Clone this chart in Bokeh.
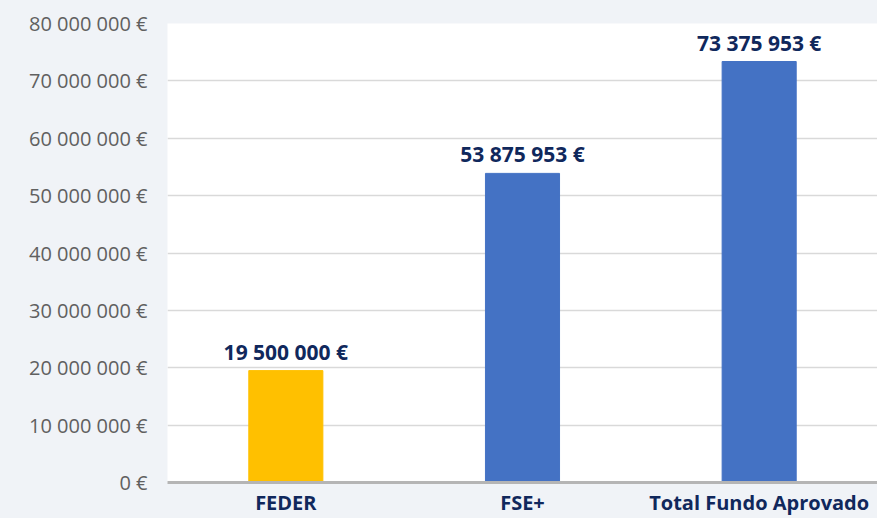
from bokeh.plotting import figure
from bokeh.models import ColumnDataSource, FixedTicker, Range1d, FactorRange
from bokeh.embed import file_html
from bokeh.resources import INLINE
from bokeh.core.properties import value

# ---- data ----
categories = ["FEDER", "FSE+", "Total Fundo Aprovado"]
amounts = [19500000, 53875953, 73375953]
bar_colors = ["#ffc000", "#4472c4", "#4472c4"]
amount_labels = ["19 500 000 €", "53 875 953 €", "73 375 953 €"]
ytick_values = [0, 10000000, 20000000, 30000000, 40000000, 50000000, 60000000, 70000000, 80000000]
ytick_labels = ["0 €", "10 000 000 €", "20 000 000 €", "30 000 000 €", "40 000 000 €",
                "50 000 000 €", "60 000 000 €", "70 000 000 €", "80 000 000 €"]

BG = "#f0f3f7"
NAVY = "#10285c"

src = ColumnDataSource(dict(cat=categories, val=amounts, color=bar_colors, lab=amount_labels))

p = figure(width=877, height=518, x_range=FactorRange(*categories, range_padding=0),
           y_range=Range1d(0, 80000000), output_backend="svg", toolbar_location=None,
           min_border_left=167, min_border_right=0, min_border_top=23, min_border_bottom=30)

p.background_fill_color = "white"
p.border_fill_color = BG
p.outline_line_color = None

p.vbar(x="cat", top="val", width=0.313, color="color", source=src)

p.text(x="cat", y="val", text="lab", source=src, text_align="center", text_baseline="alphabetic",
       y_offset=-19, text_font=value("Open Sans"), text_font_style="bold",
       text_font_size="21px", text_color=NAVY)

# y axis
p.yaxis.ticker = FixedTicker(ticks=ytick_values)
p.yaxis.major_label_overrides = {v: l for v, l in zip(ytick_values, ytick_labels)}
p.yaxis.axis_line_color = None
p.yaxis.major_tick_line_color = None
p.yaxis.minor_tick_line_color = None
p.yaxis.major_tick_out = 0
p.yaxis.major_tick_in = 0
p.yaxis.minor_tick_out = 0
p.yaxis.major_label_standoff = 20
p.yaxis.major_label_text_font = "Open Sans"
p.yaxis.major_label_text_font_size = "20px"
p.yaxis.major_label_text_color = "#606060"

# x axis
p.xaxis.axis_line_color = "#b5b5b5"
p.xaxis.axis_line_width = 3
p.xaxis.major_tick_line_color = None
p.xaxis.minor_tick_line_color = None
p.xaxis.major_tick_out = 0
p.xaxis.major_tick_in = 0
p.xaxis.minor_tick_out = 0
p.xaxis.major_label_standoff = 6
p.xaxis.major_label_text_font = "Open Sans"
p.xaxis.major_label_text_font_style = "bold"
p.xaxis.major_label_text_font_size = "20px"
p.xaxis.major_label_text_color = NAVY

p.xgrid.grid_line_color = None
p.ygrid.grid_line_color = "#d9d9d9"
p.ygrid.grid_line_width = 1.5

html = file_html(p, INLINE, title="Fundo Aprovado")
html = html.replace("<head>", "<head><style>html,body{margin:0;padding:0;background:%s;overflow:hidden}</style>" % BG, 1)
open("out.html", "w").write(html)
